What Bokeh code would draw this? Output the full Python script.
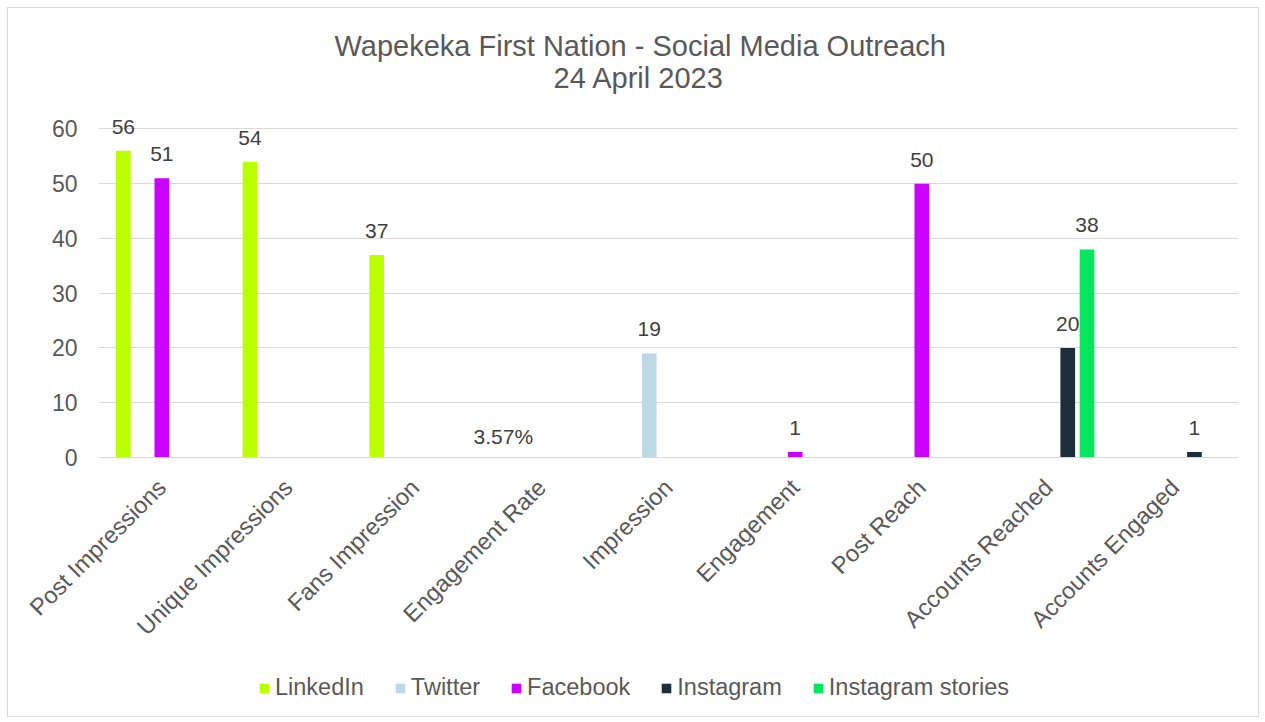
import math
from bokeh.plotting import figure
from bokeh.layouts import column
from bokeh.models import ColumnDataSource, FactorRange, Range1d, FixedTicker, Legend, LegendItem, Title
from bokeh.transform import dodge
from bokeh.core.properties import value
from bokeh.embed import file_html
from bokeh.resources import INLINE

categories = ["Post Impressions", "Unique Impressions", "Fans Impression", "Engagement Rate",
              "Impression", "Engagement", "Post Reach", "Accounts Reached", "Accounts Engaged"]
series = ["LinkedIn", "Twitter", "Facebook", "Instagram", "Instagram stories"]
linkedin = [56, 54, 37, 0.0357, None, None, None, None, None]
linkedin_labels = ["56", "54", "37", "3.57%", "", "", "", "", ""]
twitter = [None, None, None, None, 19, None, None, None, None]
facebook = [51, None, None, None, None, 1, 50, None, None]
instagram = [None, None, None, None, None, None, None, 20, 1]
instagram_stories = [None, None, None, None, None, None, None, 38, None]
colors = ["#bbff00", "#bdd9e3", "#cc00ff", "#1b2e3a", "#05e65c"]
y_ticks = [0, 10, 20, 30, 40, 50, 60]
title_lines = ["Wapekeka First Nation - Social Media Outreach", "24 April 2023"]

FONT = "Liberation Sans"
all_vals = [linkedin, twitter, facebook, instagram, instagram_stories]

W = 1250
p = figure(x_range=FactorRange(*categories), y_range=Range1d(0, 63),
           width=W, height=650, output_backend="svg", toolbar_location=None,
           min_border_left=90, min_border_right=20, min_border_top=104, min_border_bottom=201)
p.title.visible = False

# (standoff, left offset from frame) for second line then first line
title_pos = [(38, 455), (-42, 236)]
for line, (sd, off) in zip(reversed(title_lines), title_pos):
    t = Title(text=line, align="left", offset=off, text_font=FONT, text_font_size="29px",
              text_font_style="normal", text_color="#595959")
    try:
        t.standoff = sd
    except Exception:
        t.standoff = 0
    p.add_layout(t, "above")

offsets = [-0.304, -0.152, 0.0, 0.152, 0.304]
for name, vals, col, off in zip(series, all_vals, colors, offsets):
    xs, ys, labs, loff = [], [], [], []
    for i, v in enumerate(vals):
        if v is None:
            continue
        xs.append(categories[i])
        ys.append(v)
        labs.append(linkedin_labels[i] if name == "LinkedIn" else str(v))
        loff.append(-9 if v < 0.5 else -17)
    src = ColumnDataSource(dict(x=xs, y=ys, lab=labs, loff=loff))
    p.vbar(x=dodge("x", off, range=p.x_range), top="y", width=0.116, source=src,
           fill_color=col, line_color=None)
    p.text(x=dodge("x", off, range=p.x_range), y="y", text="lab", source=src,
           text_align="center", text_baseline="bottom", y_offset="loff",
           text_font=value(FONT), text_font_size="21px", text_color="#404040")

p.yaxis.ticker = FixedTicker(ticks=y_ticks)
p.yaxis.axis_line_color = None
p.yaxis.major_tick_line_color = None
p.yaxis.minor_tick_line_color = None
p.yaxis.major_label_text_font = FONT
p.yaxis.major_label_text_font_size = "23px"
p.yaxis.major_label_text_color = "#595959"
p.yaxis.major_label_standoff = 15

p.xaxis.axis_line_color = "#d9d9d9"
p.xaxis.major_tick_line_color = None
p.xaxis.major_label_orientation = math.pi / 4
p.xaxis.major_label_text_font = FONT
p.xaxis.major_label_text_font_size = "23.6px"
p.xaxis.major_label_text_color = "#595959"
p.xaxis.major_label_standoff = 20

p.xgrid.grid_line_color = None
p.ygrid.grid_line_color = "#d9d9d9"
p.ygrid.grid_line_width = 1
p.outline_line_color = None
p.background_fill_color = "white"

# legend strip
pl = figure(width=W, height=58, output_backend="svg", toolbar_location=None,
            x_range=Range1d(0, 1), y_range=Range1d(0, 1),
            x_axis_location=None, y_axis_location=None,
            min_border_left=0, min_border_right=0, min_border_top=0, min_border_bottom=0)
pl.title.visible = False
pl.grid.grid_line_color = None
pl.outline_line_color = None
items = []
for name, col in zip(series, colors):
    r = pl.vbar(x=[0.5], top=[0], bottom=[0], width=0.0, fill_color=col, line_color=None)
    items.append(LegendItem(label=name, renderers=[r]))
legend = Legend(items=items, orientation="horizontal", location=(160, 15),
                label_text_font=FONT, label_text_font_size="23.5px", label_text_color="#595959",
                glyph_width=12, glyph_height=12, label_standoff=5, spacing=30,
                border_line_color=None, background_fill_alpha=0, margin=0, padding=0)
pl.add_layout(legend, "center")

layout = column(p, pl, spacing=0, margin=(7, 0, 0, 7), styles={"border": "1px solid #d9d9d9"})
open("out.html", "w").write(file_html(layout, INLINE))
